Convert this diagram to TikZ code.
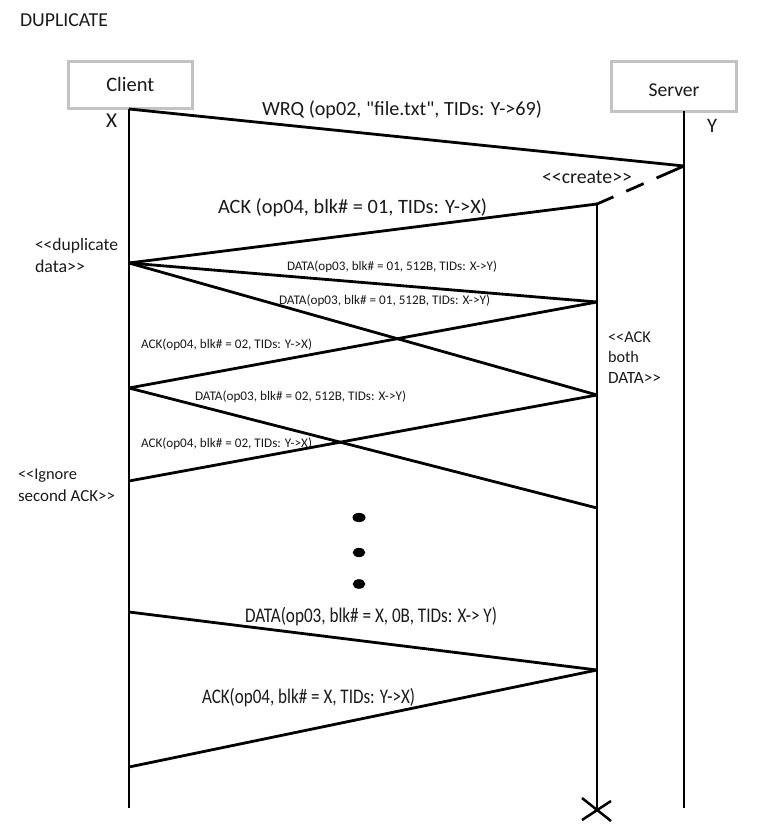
\documentclass[tikz,border=0pt]{standalone}
\usepackage{fontspec}
\usepackage{graphicx}
\usetikzlibrary{calc}
\setmainfont{Carlito}[Ligatures=TeXOff]
\newfontfamily\narrowfont{Carlito}[Ligatures=TeXOff,FakeStretch=0.82]
% set a text at a fixed width
\newcommand{\fitto}[2]{\resizebox{#1pt}{!}{#2}}
\definecolor{boxgray}{HTML}{C3C3C3}
\definecolor{ink}{HTML}{1A1A1A}

\begin{document}
\begin{tikzpicture}[x=1pt,y=-1pt,
  every node/.style={inner sep=0pt,outer sep=0pt,text=ink,font=\fontsize{19}{21.5}\selectfont},
  actorbox/.style={draw=boxgray,line width=3pt,fill=white},
  lifeline/.style={line width=2.8pt,draw=black},
  msg/.style={line width=2.8pt,draw=black},
  txt/.style={anchor=base west},
  multi/.style={anchor=base west,align=left},
]
\useasboundingbox (0,0) rectangle (782,832);

% title
\node[txt] (title) at (20,27) {\fitto{88}{DUPLICATE}};

% participants
\node[actorbox,minimum width=124.5pt,minimum height=47pt,text height=14pt,text depth=0pt]
  (client) at (130.25,85) {\fitto{48}{Client}};
\node[actorbox,minimum width=125pt,minimum height=50pt,text height=19pt,text depth=0pt]
  (server) at (674,86.5) {\fitto{51}{Server}};
\node[txt] (xlab) at (106,128) {\fitto{11}{X}};
\node[txt] (ylab) at (707,132) {\fitto{10}{Y}};

% points on the client lifeline (x = 129)
\coordinate (c0)  at (129,109);
\coordinate (c1)  at (129,263);
\coordinate (c2)  at (129,388);
\coordinate (c3)  at (129,481);
\coordinate (c4)  at (129,612);
\coordinate (c5)  at (129,767);
\coordinate (cE)  at (129,808);
% points on the server lifeline (x = 684)
\coordinate (s0)  at (684,111.5);
\coordinate (s1)  at (684,166);
\coordinate (sE)  at (684,808);
% points on the created thread (x = 597)
\coordinate (t0)  at (597,204);
\coordinate (t1)  at (597,302);
\coordinate (t2)  at (597,395);
\coordinate (t3)  at (597,508);
\coordinate (t4)  at (597,670);
\coordinate (tE)  at (597,810);

% lifelines
\draw[lifeline] (c0) -- (cE);
\draw[lifeline] (s0) -- (sE);
\draw[lifeline] (t0) -- (tE);
% thread destruction
\draw[line width=2.5pt] ($(tE)+(-15,-12)$) -- ($(tE)+(14,11)$);
\draw[line width=2.5pt] ($(tE)+(-15,10)$) -- ($(tE)+(14,-9)$);

% messages
\draw[msg] (c0) -- (s1);
\draw[msg,dash pattern=on 30pt off 14pt on 19pt off 14pt on 20pt] (s1) -- (t0);
\draw[msg] (t0) -- (c1);
\draw[msg] (c1) -- (t1);
\draw[msg] (c1) -- (t2);
\draw[msg] (t1) -- (c2);
\draw[msg] (c2) -- (t3);
\draw[msg] (t2) -- (c3);
\draw[msg] (c4) -- (t4);
\draw[msg] (t4) -- (c5);

% continuation dots
\fill (359,517.5) ellipse (6.5pt and 4.6pt);
\fill (359,552.5) ellipse (6.3pt and 4.6pt);
\fill (359,584) ellipse (6.3pt and 4.8pt);

% message labels
\node[txt] (wrq)   at (262,116)   {\fitto{280}{WRQ (op02, "file.txt", TIDs: Y->69)}};
\node[txt] (crt)   at (542,183)   {\fitto{90}{<{}<create>{}>}};
\node[txt] (ack1)  at (218,213)   {\fitto{269}{ACK (op04, blk\# = 01, TIDs: Y->X)}};
\node[txt] (data1) at (287,270.5) {\fitto{210}{DATA(op03, blk\# = 01, 512B, TIDs: X->Y)}};
\node[txt] (data2) at (279,304)   {\fitto{211}{DATA(op03, blk\# = 01, 512B, TIDs: X->Y)}};
\node[txt] (ack2)  at (141,348)   {\fitto{171}{ACK(op04, blk\# = 02, TIDs: Y->X)}};
\node[txt] (data3) at (195,400)   {\fitto{211}{DATA(op03, blk\# = 02, 512B, TIDs: X->Y)}};
\node[txt] (ack3)  at (141,447)   {\fitto{171}{ACK(op04, blk\# = 02, TIDs: Y->X)}};
\node[txt] (data4) at (245,622)   {\fitto{252}{\narrowfont DATA(op03, blk\# = X, 0B, TIDs: X-> Y)}};
\node[txt] (ack4)  at (202,703)   {\fitto{213}{\narrowfont ACK(op04, blk\# = X, TIDs: Y->X)}};

% notes (anchored on the baseline of their last line)
\node[multi] (dup) at (35,272)
  {\fitto{83}{<{}<duplicate}\\[0.5pt]\fitto{50}{data>{}>}};
\node[multi,font=\fontsize{19}{20.5}\selectfont] (both) at (608,383)
  {\fitto{43}{<{}<ACK}\\\fitto{31}{both}\\\fitto{53}{DATA>{}>}};
\node[multi] (ign) at (18,501)
  {\fitto{59}{<{}<Ignore}\\\fitto{97}{second ACK>{}>}};
\end{tikzpicture}
\end{document}
